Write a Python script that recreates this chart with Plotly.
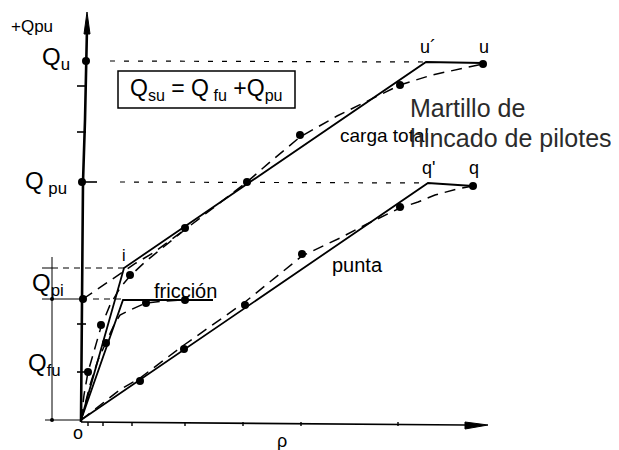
"""
Load-settlement diagram of a driven pile: total load, skin friction and point load.
"""

import plotly.graph_objects as go

# axis units: settlement rho and load Q, origin at (0, 0)
TOTAL_RHO = [0, 43, 345, 402]
TOTAL_Q = [0, 152, 358, 357]
FRIC_RHO = [0, 42, 132]
FRIC_Q = [0, 120, 120]
POINT_RHO = [0, 347, 392]
POINT_Q = [0, 237, 234]

# measured curves (dashed)
TOTAL_MEAS_RHO = [0, 3, 7, 13, 20, 29, 39, 49, 64, 106, 166, 189, 219, 256, 276, 306, 319, 351, 402]
TOTAL_MEAS_Q = [0, 25, 48, 70, 93, 115, 132, 144, 158, 192, 238, 258, 283, 304, 314, 329, 335, 345, 356]
EXTEND_RHO = [2, 40, 55, 72, 106]
EXTEND_Q = [121, 147, 157, 167, 192]
FRIC_MEAS_RHO = [0, 9, 17, 25, 33, 39, 49, 65, 84, 104]
FRIC_MEAS_Q = [0, 35, 60, 77, 95, 105, 110, 117, 119, 120]
POINT_MEAS_RHO = [0, 17, 40, 59, 103, 164, 221, 259, 286, 319, 337, 354, 376, 392]
POINT_MEAS_Q = [0, 13, 31, 42, 75, 118, 164, 182, 196, 212, 218, 225, 231, 234]

# test points
TOTAL_PTS_RHO = [7, 20, 49, 104, 166, 219, 319, 402]
TOTAL_PTS_Q = [48, 95, 145, 192, 238, 285, 335, 356]
FRIC_PTS_RHO = [25, 65, 104]
FRIC_PTS_Q = [77, 117, 120]
POINT_PTS_RHO = [59, 103, 164, 221, 319, 392]
POINT_PTS_Q = [39, 71, 115, 166, 213, 234]

# load levels
Q_U = 359
Q_PU = 238
Q_PI = 152
Q_FU = 121

# axis ticks
X_TICKS = [7, 22, 51, 104, 162, 220, 317]
Y_TICKS = [48, 96, 288, 334]

FONT = 'Liberation Sans, Arial, sans-serif'


def line(fig, x, y, width=1.8, dash='solid', color='black'):
    fig.add_trace(go.Scatter(x=x, y=y, mode='lines', hoverinfo='skip',
                             line=dict(color=color, width=width, dash=dash)))


def dots(fig, x, y, size=8):
    fig.add_trace(go.Scatter(x=x, y=y, mode='markers', hoverinfo='skip',
                             marker=dict(color='black', size=size)))


def label(fig, x, y, text, size=15, xanchor='center', color='black'):
    fig.add_annotation(x=x, y=y, text=text, showarrow=False, xanchor=xanchor,
                       yanchor='middle', font=dict(family=FONT, size=size, color=color))


fig = go.Figure()

# axes
line(fig, [0, 1, 2, 4, 5, 6], [-2, Q_FU, Q_PU, 300, Q_U, 392], width=2.6)
fig.add_trace(go.Scatter(x=[3, 6, 9, 3], y=[386, 408, 386, 386], mode='lines',
                         fill='toself', fillcolor='black', hoverinfo='skip',
                         line=dict(color='black', width=1)))
line(fig, [0, 384], [-2, -5], width=1.6)
fig.add_trace(go.Scatter(x=[384, 407, 384, 384], y=[-2, -5, -9, -2], mode='lines',
                         fill='toself', fillcolor='black', hoverinfo='skip',
                         line=dict(color='black', width=1)))
for t in X_TICKS:
    line(fig, [t, t], [-2, -6], width=1.4)
for t in Y_TICKS:
    line(fig, [-4, 5], [t, t], width=1.6)

# level guides
line(fig, [29, 345], [Q_U, 358], width=1.2, dash='5px,9px')
line(fig, [1, 16], [Q_PU, Q_PU], width=1.6)
line(fig, [39, 347], [Q_PU, 237], width=1.2, dash='5px,9px')
line(fig, [-39, -23], [Q_PI, Q_PI], width=1)
line(fig, [-18, 43], [Q_PI, Q_PI], width=1.2, dash='6px,5px')
line(fig, [-39, 1], [Q_FU, Q_FU], width=1)
line(fig, [12, 42], [Q_FU, Q_FU], width=1.2, dash='6px,5px')
line(fig, [-36, -1], [0, 0], width=1)
line(fig, [-29, -29], [163, 0], width=1)
dots(fig, [-29, -29], [Q_FU, 0], size=4)

# idealised curves
line(fig, TOTAL_RHO, TOTAL_Q)
line(fig, FRIC_RHO, FRIC_Q)
line(fig, POINT_RHO, POINT_Q)

# measured curves
line(fig, TOTAL_MEAS_RHO, TOTAL_MEAS_Q, width=1.5, dash='11px,7px')
line(fig, EXTEND_RHO, EXTEND_Q, width=1.5, dash='11px,7px')
line(fig, FRIC_MEAS_RHO, FRIC_MEAS_Q, width=1.5, dash='11px,7px')
line(fig, POINT_MEAS_RHO, POINT_MEAS_Q, width=1.5, dash='11px,7px')

dots(fig, TOTAL_PTS_RHO, TOTAL_PTS_Q)
dots(fig, FRIC_PTS_RHO, FRIC_PTS_Q)
dots(fig, POINT_PTS_RHO, POINT_PTS_Q)
dots(fig, [5, 1, 2], [Q_U, Q_PU, Q_FU])

# labels
label(fig, -49, 394, '+Qpu', size=17)
label(fig, -9, 362, 'Q<sub>u</sub>', size=24, xanchor='right')
label(fig, -12, 238, 'Q<sub> pu</sub>', size=24, xanchor='right')
label(fig, -15, 136, 'Q<sub>pi</sub>', size=24, xanchor='right')
label(fig, -18, 56, 'Q<sub>fu</sub>', size=24, xanchor='right')
label(fig, -3, -13, 'o', size=18)
label(fig, 201, -21, 'ρ', size=18)
label(fig, 43, 165, 'i', size=16)
label(fig, 347, 373, 'u´', size=18)
label(fig, 403, 373, 'u', size=18)
label(fig, 347, 252, "q'", size=18)
label(fig, 393, 252, 'q', size=18)
label(fig, 71, 129, 'fricción', size=20, xanchor='left')
label(fig, 257, 285, 'carga total', size=19, xanchor='left')
label(fig, 249, 155, 'punta', size=20, xanchor='left')

fig.add_shape(type='rect', x0=37, x1=214, y0=312, y1=349,
              line=dict(color='black', width=1.5))
label(fig, 125, 331, 'Q<sub>su</sub> = Q<sub> fu</sub> +Q<sub>pu</sub>', size=23)

label(fig, 327, 312, 'Martillo de', size=25, xanchor='left', color='#2b2b2b')
label(fig, 327, 282, 'hincado de pilotes', size=25, xanchor='left', color='#2b2b2b')

# the page keeps an 8px body margin, so the figure is 8px smaller than the window
fig.update_layout(
    width=611, height=442,
    margin=dict(l=0, r=0, t=0, b=0),
    showlegend=False,
    plot_bgcolor='white', paper_bgcolor='white',
)
fig.update_xaxes(visible=False, range=[-73, 538])
fig.update_yaxes(visible=False, range=[-30, 412])

fig.write_html('out.html')
